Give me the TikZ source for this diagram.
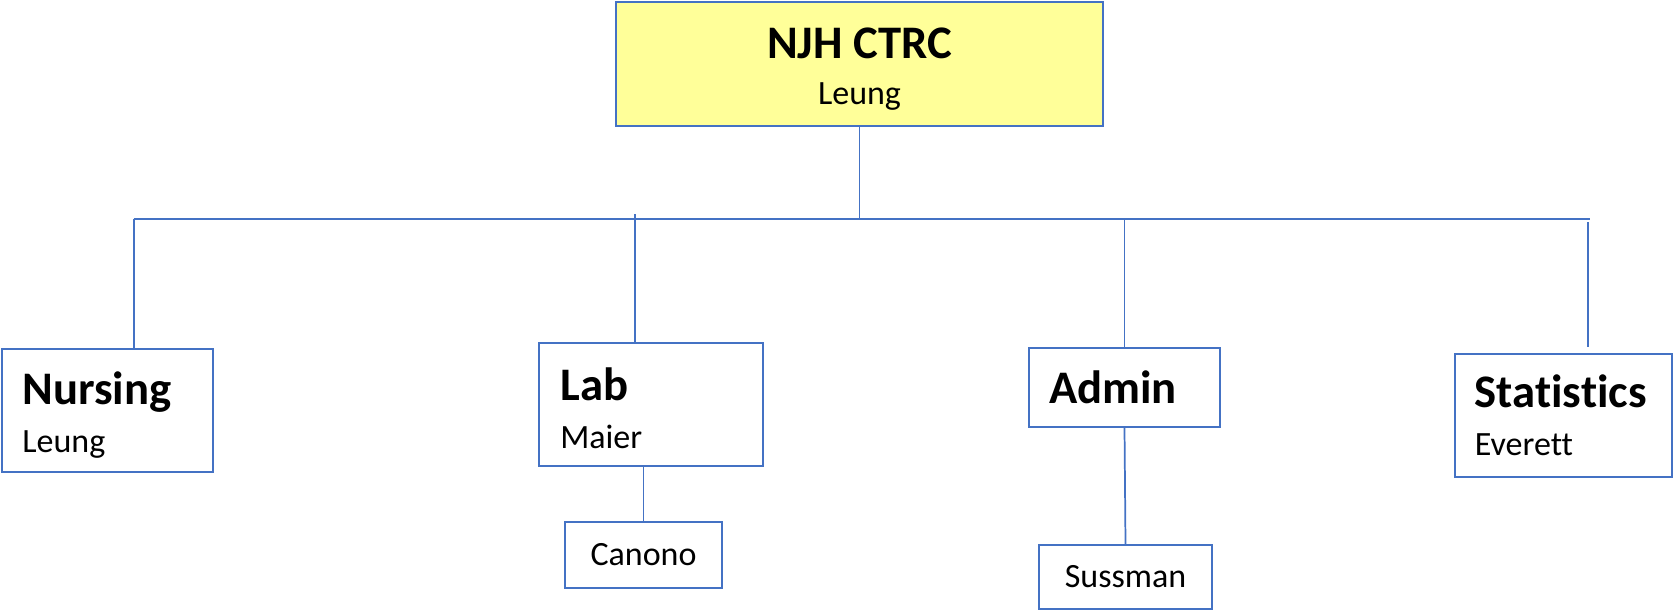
\documentclass[tikz,border=0pt]{standalone}
\usepackage{fontspec}
\setmainfont{Carlito}[Ligatures=NoCommon]
\usetikzlibrary{positioning}
\definecolor{orgblue}{HTML}{4472C4}
\definecolor{topyellow}{HTML}{FFFF99}
% bold heading line, optional strut pushes the text block down a little
\newcommand{\unithead}[2][0pt]{{\fontsize{35}{36}\selectfont\bfseries\rule{0pt}{#1}#2}}
\tikzset{
	orgbox/.style={draw=orgblue, line width=1.4pt, rectangle, inner ysep=0pt,
		font=\fontsize{25.5}{36}\selectfont},
	unitbox/.style={orgbox, align=left, inner xsep=15pt},
	link/.style={draw=orgblue, line width=1.3pt}
}
\begin{document}
\begin{tikzpicture}[x=0.75pt, y=-0.75pt]
	\useasboundingbox (0,0) rectangle (1674,611);
	
	\node[orgbox, fill=topyellow, align=center, minimum width=365pt, minimum height=93pt,
		font=\fontsize{25.5}{34.5}\selectfont] (ctrc) at (859.5,64) {\unithead[30.5pt]{NJH CTRC}\\Leung};
	
	\node[unitbox, minimum width=158pt, minimum height=92pt, text width=128pt] (nursing) at (107.75,410.5) {\unithead[31pt]{Nursing}\\Leung};
	\node[unitbox, minimum width=168pt, minimum height=92pt, text width=136pt, inner xsep=16pt] (lab) at (651,404.5) {\unithead[29.5pt]{Lab}\\Maier};
	\node[unitbox, minimum width=143pt, minimum height=59pt, text width=113pt] (admin) at (1124.5,387.5) {\unithead{Admin}};
	\node[unitbox, minimum width=163pt, minimum height=92pt, text width=133pt] (stats) at (1563.5,415.5) {\unithead{Statistics}\\Everett};
	
	\node[orgbox, minimum width=118pt, minimum height=49.5pt] (canono) at (643.5,555) {Canono};
	\node[orgbox, minimum width=130pt, minimum height=48pt] (sussman) at (1125.5,577) {Sussman};
	
	\coordinate (barL) at (133.7,219);
	\coordinate (barR) at (1590,219);
	\coordinate (labtop) at (635,214);
	\coordinate (statstop) at (1588,222);
	
	\draw[link] (ctrc.south) -- (ctrc.south |- barL);
	\draw[link] (barL) -- (barR);
	\draw[link] (barL) -- (barL |- nursing.north);
	\draw[link] (labtop) -- (labtop |- lab.north);
	\draw[link] (admin.north |- barL) -- (admin.north);
	\draw[link, shorten >=5pt] (statstop) -- (statstop |- stats.north);
	
	\draw[link] (canono.north |- lab.south) -- (canono.north);
	\draw[link] (admin.south) -- (sussman.north);
\end{tikzpicture}
\end{document}
